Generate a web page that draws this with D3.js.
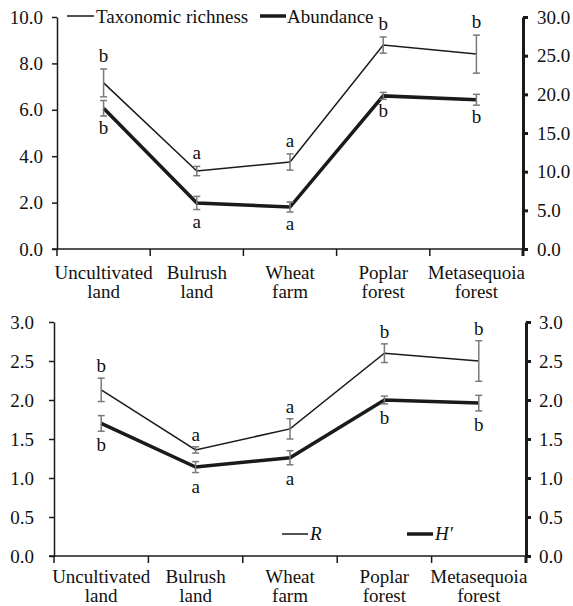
<!DOCTYPE html>
<html><head><meta charset="utf-8">
<script src="https://cdn.jsdelivr.net/npm/d3@7"></script>
<style>body{margin:0;background:#fff}svg{display:block}</style>
</head><body><svg id="c" width="573" height="606" font-family="Liberation Serif"></svg>
<script>
const categories = [["Uncultivated","land"],["Bulrush","land"],["Wheat","farm"],["Poplar","forest"],["Metasequoia","forest"]];
const richness = [7.16, 3.36, 3.75, 8.79, 8.40];
const richnessErr = [0.60, 0.20, 0.35, 0.35, 0.82];
const richnessLetters = ["b","a","a","b","b"];
const abundance = [18.2, 5.95, 5.43, 19.8, 19.3];
const abundanceErr = [1.0, 0.85, 0.65, 0.45, 0.7];
const abundanceLetters = ["b","a","a","b","b"];
const Rvals = [2.13, 1.36, 1.63, 2.60, 2.50];
const Rerr = [0.15, 0.04, 0.13, 0.12, 0.26];
const Rletters = ["b","a","a","b","b"];
const Hvals = [1.70, 1.14, 1.26, 2.00, 1.96];
const Herr = [0.10, 0.07, 0.09, 0.05, 0.10];
const Hletters = ["b","a","a","b","b"];
const topLeftTicks = [0,2,4,6,8,10];
const topRightTicks = [0,5,10,15,20,25,30];
const botTicks = [0,0.5,1,1.5,2,2.5,3];

const svg = d3.select("#c");
const FS = 19;
const FONT = "Liberation Serif";
const LINE = "#1a1a1a", ERR = "#7a7a7a", TXT = "#111";

function panel(o){
  const g = svg.append("g");
  const names = categories.map(c=>c.join(" "));
  const x = d3.scaleBand().domain(names).range([o.x0,o.x1]);
  const yL = d3.scaleLinear().domain([0,o.lmax]).range([o.y1,o.y0]);
  const yR = d3.scaleLinear().domain([0,o.rmax]).range([o.y1,o.y0]);
  const la = g.append("g").attr("transform",`translate(${o.x0},0)`)
    .call(d3.axisLeft(yL).tickValues(o.lticks).tickFormat(d3.format(".1f")).tickSize(5).tickSizeOuter(0).tickPadding(o.lpad));
  la.attr("font-family",FONT).attr("font-size",FS);
  la.selectAll("path,line").attr("stroke",LINE).attr("stroke-width",1.5);
  la.selectAll("text").attr("fill",TXT).attr("font-family",FONT);
  const ra = g.append("g").attr("transform",`translate(${o.x1},0)`)
    .call(d3.axisRight(yR).tickValues(o.rticks).tickFormat(d3.format(".1f")).tickSize(5).tickSizeOuter(0).tickPadding(o.rpad));
  ra.attr("font-family",FONT).attr("font-size",FS);
  ra.selectAll("path,line").attr("stroke",LINE).attr("stroke-width",3);
  ra.selectAll("text").attr("fill",TXT).attr("font-family",FONT);
  g.append("line").attr("x1",o.x0-5).attr("x2",o.x1+3).attr("y1",o.y1).attr("y2",o.y1).attr("stroke",LINE).attr("stroke-width",1.5);
  const bounds = names.map(n=>x(n)).concat([o.x1]);
  g.selectAll(".xt").data(bounds).join("line").attr("x1",d=>d).attr("x2",d=>d)
    .attr("y1",o.y1).attr("y2",o.y1+7).attr("stroke",LINE).attr("stroke-width",(d,i)=>i===bounds.length-1?3:1.5);
  const cx = n=>x(n)+x.bandwidth()/2;
  categories.forEach((c,i)=>{
    [0,1].forEach(k=>{
      g.append("text").attr("x",cx(names[i])).attr("y",o.y1+o.lab+k*o.lh).attr("text-anchor","middle")
        .attr("font-size",FS).attr("font-family",FONT).attr("fill",TXT).text(c[k]);
    });
  });
  o.series.forEach(s=>{
    const y = s.axis==="L"?yL:yR;
    const line = d3.line().x((d,i)=>cx(names[i])).y(d=>y(d));
    g.append("path").datum(s.vals).attr("d",line).attr("fill","none").attr("stroke",LINE).attr("stroke-width",s.w).attr("stroke-linejoin","miter");
    s.vals.forEach((v,i)=>{
      const X = cx(names[i]), t = y(v+s.err[i]), b = y(v-s.err[i]);
      g.append("line").attr("x1",X).attr("x2",X).attr("y1",t).attr("y2",b).attr("stroke",ERR).attr("stroke-width",1.5);
      [t,b].forEach(yy=>g.append("line").attr("x1",X-3.5).attr("x2",X+3.5).attr("y1",yy).attr("y2",yy).attr("stroke",ERR).attr("stroke-width",1.5));
      const ly = s.above ? t - o.gapA : b + o.gapB;
      g.append("text").attr("x",X).attr("y",ly).attr("text-anchor","middle").attr("font-size",FS).attr("font-family",FONT).attr("fill",TXT).text(s.letters[i]);
    });
  });
  return g;
}

panel({x0:57,x1:523,y0:17,y1:249,lmax:10,rmax:30,lticks:topLeftTicks,rticks:topRightTicks,lpad:9,rpad:9,lab:30,lh:19,gapA:7,gapB:18,
  series:[{vals:richness,err:richnessErr,letters:richnessLetters,axis:"L",w:1.5,above:true},
          {vals:abundance,err:abundanceErr,letters:abundanceLetters,axis:"R",w:3.5,above:false}]});
panel({x0:54,x1:526,y0:322,y1:556,lmax:3,rmax:3,lticks:botTicks,rticks:botTicks,lpad:15,rpad:8,lab:27,lh:19,gapA:6,gapB:20,
  series:[{vals:Rvals,err:Rerr,letters:Rletters,axis:"L",w:1.5,above:true},
          {vals:Hvals,err:Herr,letters:Hletters,axis:"R",w:3.5,above:false}]});

const leg = svg.append("g");
function legText(xp,yp,txt,italic){
  const t = leg.append("text").attr("x",xp).attr("y",yp).attr("font-size",FS).attr("font-family",FONT).attr("fill",TXT).text(txt);
  if(italic) t.attr("font-style","italic");
}
leg.append("line").attr("x1",67).attr("x2",94).attr("y1",16).attr("y2",16).attr("stroke",LINE).attr("stroke-width",1.5);
legText(96,23,"Taxonomic richness");
leg.append("line").attr("x1",260).attr("x2",286).attr("y1",16).attr("y2",16).attr("stroke",LINE).attr("stroke-width",3.5);
legText(287,23,"Abundance");
leg.append("line").attr("x1",282).attr("x2",308).attr("y1",534).attr("y2",534).attr("stroke",LINE).attr("stroke-width",1.5);
legText(310,540,"R",true);
leg.append("line").attr("x1",407).attr("x2",433).attr("y1",534).attr("y2",534).attr("stroke",LINE).attr("stroke-width",3.5);
legText(435,540,"H′",true);
</script></body></html>
